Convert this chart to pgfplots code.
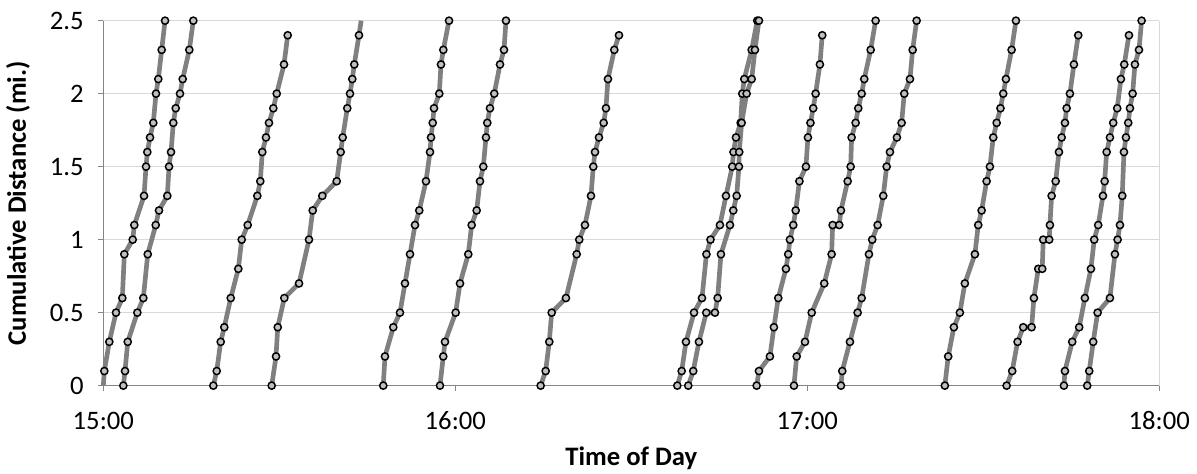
\documentclass[border=0pt]{standalone}
\usepackage{pgfplots}
\pgfplotsset{compat=1.18}
\usepackage{fontspec}
\setmainfont{Carlito}
\definecolor{linegray}{HTML}{808080}
\definecolor{markgray}{HTML}{C0C0C0}
\definecolor{gridgray}{HTML}{D9D9D9}
\definecolor{axisgray}{HTML}{868686}
\pgfplotsset{traj/.style={color=linegray, line width=3.5pt, mark=*, mark size=2.7pt,
  mark options={fill=markgray, draw=black, line width=1.1pt}},
  ext/.style={color=linegray, line width=3.5pt, no marks}}
\begin{document}
\begin{tikzpicture}
\useasboundingbox (-77.5pt,-66.2pt) rectangle (820.3pt,289.25pt);
\begin{axis}[
  scale only axis, width=792pt, height=273.75pt,
  xmin=0, xmax=180, ymin=0, ymax=2.5,
  clip=false,
  axis x line*=bottom, axis y line*=left,
  axis line style={draw=axisgray, line width=1pt, -},
  xtick={0,60,120,180}, xticklabels={15:00,16:00,17:00,18:00},
  ytick={0,0.5,1,1.5,2,2.5}, yticklabels={0,0.5,1,1.5,2,2.5},
  tick align=outside, major tick length=3.75pt,
  tick style={draw=axisgray, line width=1pt},
  ymajorgrids, grid style={draw=gridgray, line width=1.1pt},
  ticklabel style={font=\fontsize{20}{24}\selectfont, text=black},
  xticklabel style={anchor=base, yshift=-29.5pt},
  yticklabel style={xshift=-7.5pt},
  label style={font=\bfseries\fontsize{20}{24}\selectfont, text=black},
  xlabel={Time of Day}, ylabel={Cumulative Distance (mi.)},
  xlabel style={at={(axis description cs:0.5,-0.2192)}, anchor=base},
  ylabel style={at={(axis description cs:-0.0808,0.5)}, anchor=center},
]
\draw[gridgray, line width=1.1pt] (axis cs:180,0) -- (axis cs:180,2.5);
\addplot[ext] coordinates {(0,0)(0.17,0.1)};
\addplot[ext] coordinates {(43.58,2.4)(43.95,2.5)};
% A
\addplot[traj] coordinates {(0.17,0.1)(1.02,0.3)(2.16,0.5)(3.24,0.6)(3.58,0.9)(5.01,1.0)(5.28,1.1)(6.94,1.3)(7.28,1.5)(7.50,1.6)(7.96,1.7)(8.52,1.8)(8.98,2.0)(9.37,2.1)(9.95,2.3)(10.52,2.5)};
% B
\addplot[traj] coordinates {(3.41,0)(3.70,0.1)(4.16,0.3)(5.80,0.5)(6.82,0.6)(7.57,0.9)(8.93,1.1)(9.49,1.2)(10.91,1.3)(11.20,1.5)(11.54,1.6)(11.93,1.8)(12.34,1.9)(13.07,2.0)(13.53,2.1)(14.66,2.3)(15.34,2.5)};
% C
\addplot[traj] coordinates {(18.75,0)(19.33,0.1)(20.01,0.3)(20.62,0.4)(21.72,0.6)(23.01,0.8)(23.59,1.0)(24.61,1.1)(26.25,1.3)(26.76,1.4)(27.10,1.6)(27.73,1.7)(28.24,1.8)(28.98,1.9)(29.56,2.0)(30.80,2.2)(31.43,2.4)};
% D
\addplot[traj] coordinates {(28.70,0)(29.44,0.2)(29.73,0.4)(30.85,0.6)(33.36,0.7)(35.06,1.0)(35.69,1.2)(37.33,1.3)(39.78,1.4)(40.46,1.6)(40.80,1.7)(41.59,1.9)(42.05,2.0)(42.44,2.1)(42.78,2.2)(43.58,2.4)};
% E
\addplot[traj] coordinates {(47.72,0)(48.01,0.2)(49.43,0.4)(50.57,0.5)(51.42,0.7)(52.28,0.9)(53.13,1.1)(53.86,1.2)(55.00,1.4)(55.69,1.6)(55.86,1.7)(56.15,1.8)(56.37,1.9)(57.27,2.0)(57.56,2.2)(57.96,2.3)(58.93,2.5)};
% F
\addplot[traj] coordinates {(57.39,0)(57.95,0.2)(58.24,0.3)(60.06,0.5)(60.80,0.7)(62.21,0.9)(62.79,1.1)(63.64,1.2)(64.21,1.4)(64.77,1.5)(65.23,1.7)(65.45,1.8)(65.91,1.9)(66.64,2.0)(67.62,2.2)(68.30,2.3)(68.64,2.5)};
% G
\addplot[traj] coordinates {(74.55,0)(75.40,0.1)(76.02,0.3)(76.43,0.5)(78.86,0.6)(80.69,0.9)(81.13,1.0)(82.10,1.1)(83.13,1.3)(83.52,1.5)(83.81,1.6)(84.49,1.7)(85.29,1.8)(85.68,1.9)(86.02,2.1)(87.10,2.3)(87.90,2.4)};
% H
\addplot[traj] coordinates {(97.84,0)(98.59,0.1)(99.32,0.3)(100.69,0.5)(102.05,0.6)(102.81,0.9)(103.50,1.0)(105.11,1.1)(106.14,1.3)(107.21,1.5)(107.42,1.6)(107.84,1.7)(108.64,1.8)(108.92,2.0)(109.26,2.1)(110.52,2.3)(111.47,2.5)};
% I
\addplot[traj] coordinates {(99.71,0)(100.56,0.1)(101.53,0.3)(102.78,0.5)(104.26,0.5)(104.72,0.6)(105.28,0.9)(106.82,1.1)(107.38,1.2)(107.96,1.3)(108.35,1.5)(108.40,1.6)(108.81,1.8)(109.66,2.0)(110.52,2.1)(111.08,2.3)(111.76,2.5)};
% J
\addplot[traj] coordinates {(111.37,0)(111.76,0.1)(113.63,0.2)(114.31,0.4)(115.05,0.6)(116.36,0.8)(116.75,0.9)(117.04,1.0)(117.61,1.1)(118.02,1.2)(118.66,1.4)(119.77,1.5)(120.11,1.7)(120.54,1.8)(121.01,1.9)(121.42,2.0)(122.15,2.2)(122.55,2.4)};
% K
\addplot[traj] coordinates {(117.73,0)(118.19,0.2)(119.61,0.3)(120.75,0.5)(122.89,0.7)(124.15,0.9)(124.32,1.1)(125.45,1.1)(125.74,1.2)(126.88,1.4)(127.39,1.5)(127.56,1.7)(128.24,1.8)(128.69,1.9)(129.27,2.0)(129.71,2.1)(130.80,2.3)(131.65,2.5)};
% L
\addplot[traj] coordinates {(125.74,0)(125.96,0.1)(127.27,0.3)(128.58,0.5)(129.27,0.6)(130.51,0.9)(131.07,1.0)(131.99,1.1)(132.95,1.3)(133.53,1.5)(134.09,1.6)(135.28,1.7)(136.08,1.8)(136.53,2.0)(137.50,2.1)(137.96,2.3)(138.64,2.5)};
% M
\addplot[traj] coordinates {(143.45,0)(144.02,0.2)(144.99,0.4)(146.01,0.5)(146.86,0.7)(148.57,0.9)(149.14,1.1)(149.72,1.2)(150.57,1.4)(151.13,1.5)(151.70,1.7)(152.28,1.8)(152.93,1.9)(153.40,2.0)(153.86,2.1)(154.83,2.3)(155.57,2.5)};
% N
\addplot[traj] coordinates {(153.98,0)(154.93,0.1)(155.85,0.3)(156.81,0.4)(158.24,0.4)(158.63,0.6)(159.37,0.8)(160.05,0.8)(160.22,1.0)(161.24,1.0)(161.36,1.1)(161.65,1.3)(162.34,1.4)(162.90,1.6)(163.36,1.7)(163.92,1.8)(164.21,1.9)(164.77,2.0)(165.45,2.2)(166.19,2.4)};
% O
\addplot[traj] coordinates {(163.75,0)(163.92,0.1)(165.16,0.3)(166.35,0.4)(167.32,0.6)(168.35,0.8)(168.91,1.0)(169.59,1.1)(170.40,1.3)(170.69,1.4)(171.03,1.6)(171.59,1.7)(172.15,1.8)(172.83,1.9)(173.46,2.1)(174.03,2.2)(174.83,2.4)};
% P
\addplot[traj] coordinates {(167.72,0)(168.06,0.1)(168.74,0.3)(169.49,0.5)(171.59,0.6)(172.44,0.9)(172.90,1.0)(173.30,1.1)(173.69,1.3)(173.98,1.6)(174.32,1.7)(174.71,1.8)(175.00,1.9)(175.46,2.0)(175.85,2.2)(176.54,2.3)(176.99,2.5)};
\end{axis}
\end{tikzpicture}
\end{document}
